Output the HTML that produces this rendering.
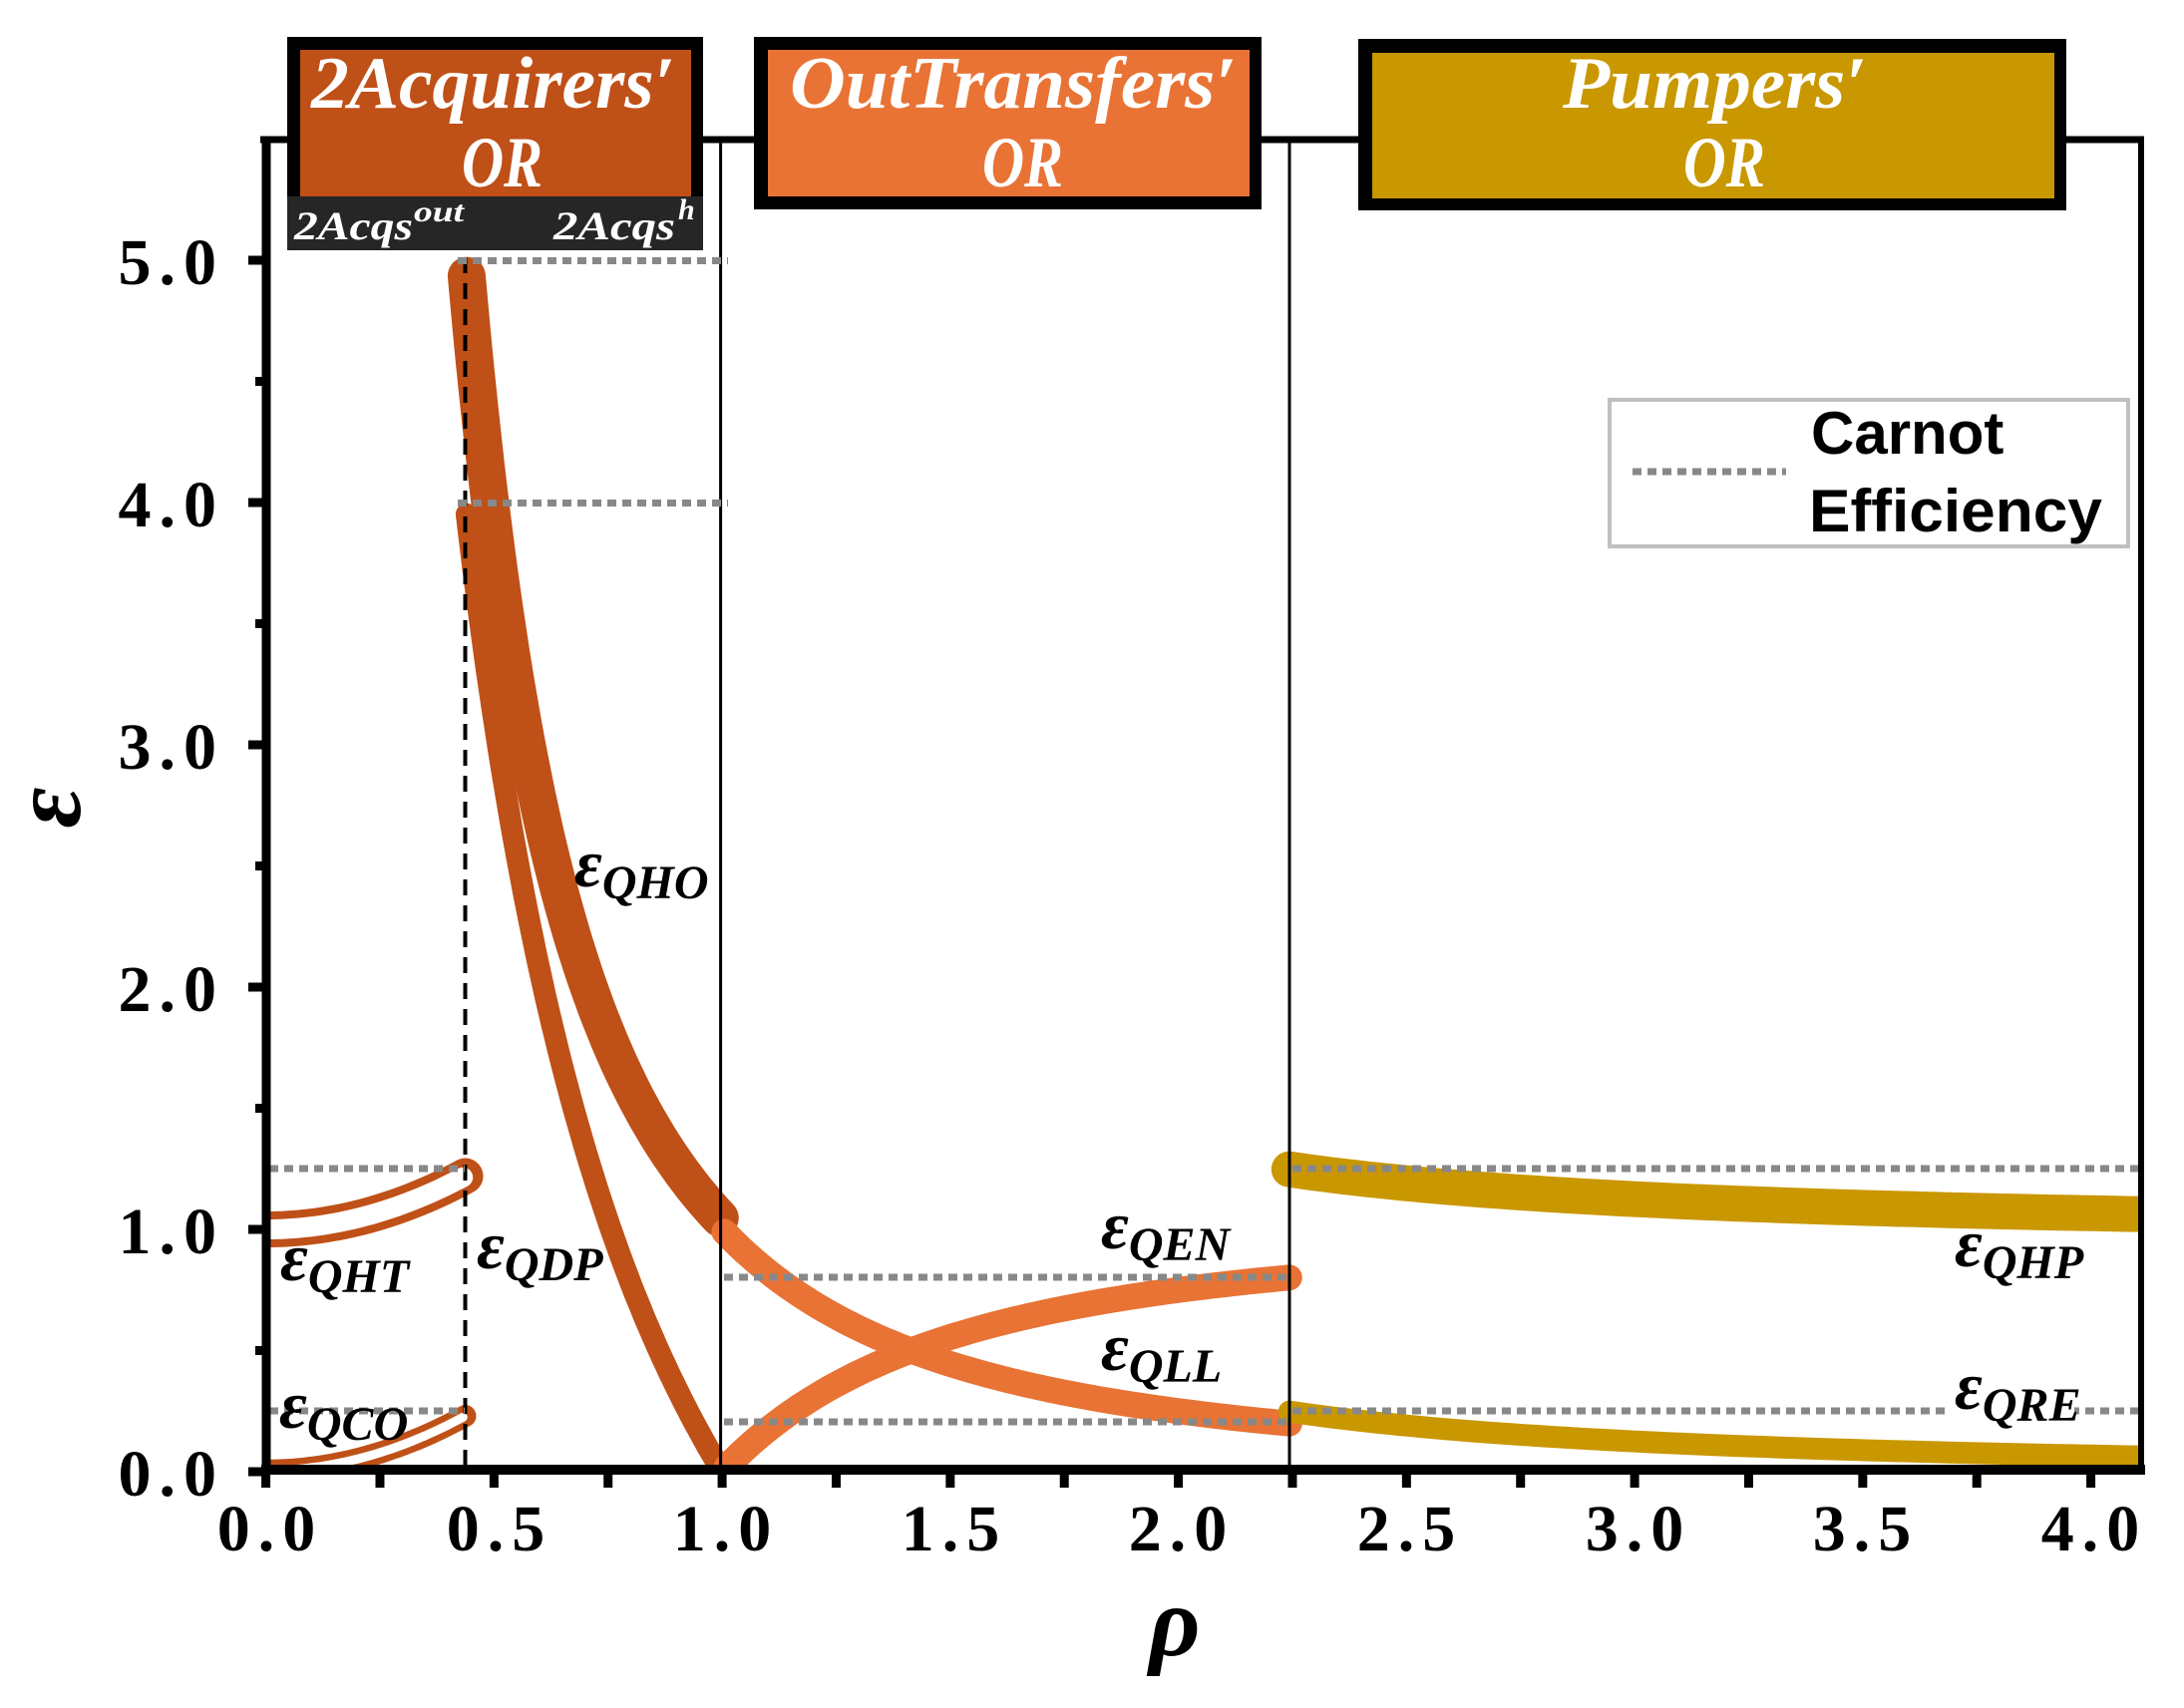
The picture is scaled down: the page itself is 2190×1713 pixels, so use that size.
<!DOCTYPE html>
<html><head><meta charset="utf-8"><style>html,body{margin:0;padding:0;background:#fff}svg{display:block}</style></head>
<body>
<svg id="s" xmlns="http://www.w3.org/2000/svg" width="2190" height="1713" viewBox="0 0 2190 1713">
<defs><clipPath id="pc"><rect x="271" y="140" width="1873" height="1330"/></clipPath></defs>
<rect width="2190" height="1713" fill="#fff"/>
<g id="curves" clip-path="url(#pc)"></g>
<!-- vertical lines -->
<line x1="722.6" y1="140" x2="722.6" y2="1470" stroke="#000" stroke-width="3"/>
<line x1="1293" y1="140" x2="1293" y2="1470" stroke="#000" stroke-width="3"/>
<line x1="466.5" y1="258" x2="466.5" y2="1470" stroke="#000" stroke-width="4" stroke-dasharray="16 10"/>
<!-- carnot dotted -->
<g stroke="#888" stroke-width="7" stroke-dasharray="9 6" fill="none">
<line x1="459" y1="261.5" x2="730" y2="261.5"/>
<line x1="459" y1="504.5" x2="730" y2="504.5"/>
<line x1="270" y1="1172" x2="466" y2="1172"/>
<line x1="270" y1="1415" x2="466" y2="1415"/>
<line x1="726" y1="1281" x2="1293" y2="1281"/>
<line x1="726" y1="1426" x2="1293" y2="1426"/>
<line x1="1296" y1="1172" x2="2146" y2="1172"/>
<line x1="1296" y1="1415" x2="2146" y2="1415"/>
</g>
<!-- axes -->
<line x1="261" y1="140" x2="2150" y2="140" stroke="#000" stroke-width="7"/>
<line x1="2147" y1="137" x2="2147" y2="1479" stroke="#000" stroke-width="6"/>
<line x1="267" y1="137" x2="267" y2="1479" stroke="#000" stroke-width="9"/>
<line x1="262" y1="1474" x2="2151" y2="1474" stroke="#000" stroke-width="10"/>
<g id="ticks" stroke="#000" stroke-width="9"></g>
<!-- tick labels -->
<g font-family="Liberation Serif, serif" font-weight="bold" font-size="66" fill="#000" letter-spacing="8" text-anchor="end">
<text x="225" y="285">5.0</text>
<text x="225" y="528">4.0</text>
<text x="225" y="771">3.0</text>
<text x="225" y="1014">2.0</text>
<text x="225" y="1257">1.0</text>
<text x="225" y="1500">0.0</text>
</g>
<g font-family="Liberation Serif, serif" font-weight="bold" font-size="66" fill="#000" letter-spacing="8" text-anchor="middle">
<text x="271" y="1555">0.0</text>
<text x="501" y="1555">0.5</text>
<text x="728" y="1555">1.0</text>
<text x="957" y="1555">1.5</text>
<text x="1185" y="1555">2.0</text>
<text x="1414" y="1555">2.5</text>
<text x="1643" y="1555">3.0</text>
<text x="1871" y="1555">3.5</text>
<text x="2100" y="1555">4.0</text>
</g>
<text x="1178" y="1660" font-family="Liberation Serif, serif" font-style="italic" font-weight="bold" font-size="100" text-anchor="middle">ρ</text>
<text transform="translate(80,810) rotate(-90)" font-family="Liberation Serif, serif" font-style="italic" font-weight="bold" font-size="100" text-anchor="middle">ε</text>
<!-- header boxes -->
<rect x="288" y="37" width="417" height="214" fill="#000"/>
<rect x="288" y="197" width="417" height="54" fill="#262626"/>
<rect x="301" y="50" width="392" height="147" fill="#BF5017"/>
<rect x="756" y="37" width="509" height="173" fill="#000"/>
<rect x="770" y="50" width="483" height="147" fill="#E87335"/>
<rect x="1362" y="39" width="710" height="172" fill="#000"/>
<rect x="1376" y="53" width="684" height="146" fill="#C99700"/>
<g font-family="Liberation Serif, serif" font-style="italic" font-weight="bold" fill="#fff">
<text x="312" y="108" font-size="74" textLength="365" lengthAdjust="spacingAndGlyphs">2Acquirers′</text>
<text x="463" y="187" font-size="72" textLength="81" lengthAdjust="spacingAndGlyphs">OR</text>
<text x="792" y="108" font-size="74" textLength="448" lengthAdjust="spacingAndGlyphs">OutTransfers′</text>
<text x="985" y="187" font-size="72" textLength="81" lengthAdjust="spacingAndGlyphs">OR</text>
<text x="1567" y="108" font-size="74" textLength="305" lengthAdjust="spacingAndGlyphs">Pumpers′</text>
<text x="1688" y="187" font-size="72" textLength="82" lengthAdjust="spacingAndGlyphs">OR</text>
<text x="295" y="240" font-size="40" textLength="119" lengthAdjust="spacingAndGlyphs">2Acqs</text>
<text x="415" y="222" font-size="30" textLength="50" lengthAdjust="spacingAndGlyphs">out</text>
<text x="555" y="240" font-size="40" textLength="122" lengthAdjust="spacingAndGlyphs">2Acqs</text>
<text x="680" y="220" font-size="30">h</text>
</g>
<!-- legend -->
<rect x="1614" y="401" width="520" height="147" fill="#fff" stroke="#c0c0c0" stroke-width="4"/>
<line x1="1637" y1="473" x2="1791" y2="473" stroke="#888" stroke-width="7" stroke-dasharray="9 6"/>
<g font-family="Liberation Sans, sans-serif" font-weight="bold" font-size="60" fill="#000">
<text x="1816" y="455">Carnot</text>
<text x="1814" y="533" textLength="294" lengthAdjust="spacingAndGlyphs">Efficiency</text>
</g>
<!-- series labels -->
<rect x="474" y="1232" width="126" height="56" fill="#fff"/>
<rect x="1955" y="1378" width="125" height="52" fill="#fff"/>
<g font-family="Liberation Serif, serif" font-style="italic" font-weight="bold" fill="#000">
<text x="576" y="889" font-size="68">ε<tspan font-size="48" dy="12">QHO</tspan></text>
<text x="478" y="1272" font-size="68">ε<tspan font-size="48" dy="12">QDP</tspan></text>
<text x="281" y="1284" font-size="68">ε<tspan font-size="48" dy="12">QHT</tspan></text>
<text x="280" y="1432" font-size="68">ε<tspan font-size="48" dy="12">QCO</tspan></text>
<text x="1104" y="1252" font-size="68">ε<tspan font-size="48" dy="12">QEN</tspan></text>
<text x="1104" y="1374" font-size="68">ε<tspan font-size="48" dy="12">QLL</tspan></text>
<text x="1960" y="1270" font-size="68">ε<tspan font-size="48" dy="12">QHP</tspan></text>
<text x="1960" y="1413" font-size="68">ε<tspan font-size="48" dy="12">QRE</tspan></text>
</g>
<script>
(function(){
var NS="http://www.w3.org/2000/svg";
function X(r){return 266.6+457.5*r;}
function Y(e){return 1476-243*e;}
function path(f,a,b,n){var d="";for(var i=0;i<=n;i++){var r=a+(b-a)*i/n;d+=(i?"L":"M")+X(r).toFixed(1)+" "+Y(f(r)).toFixed(1);}return d;}
var g=document.getElementById("curves");
function add(d,c,w){var p=document.createElementNS(NS,"path");p.setAttribute("d",d);p.setAttribute("stroke",c);p.setAttribute("stroke-width",w);p.setAttribute("fill","none");p.setAttribute("stroke-linecap","round");p.setAttribute("stroke-linejoin","round");g.appendChild(p);}
var rb=0.437,c1="#BF5017",c2="#E87335",c3="#C99700";
var qht=function(r){return 1+0.22*Math.pow(r/rb,2);};
var qco=function(r){return 0.005+0.225*Math.pow(r/rb,2);};
add(path(qht,-0.05,rb,40),c1,36);add(path(qht,-0.05,rb-0.005,40),"#fff",20);
add(path(qco,-0.05,rb,40),c1,22);add(path(qco,-0.05,rb-0.005,40),"#fff",9);
var qho=function(r){return 5*Math.pow(rb/r,1.9);};
var qdp=function(r){return 4*(1/r-1)/(1/rb-1);};
add(path(qho,rb+0.003,0.995,80),c1,38);
add(path(qdp,rb+0.003,0.995,80),c1,22);
var qll=function(r){return 1/(r*r);};
var qen=function(r){return 1-1/(r*r);};
add(path(qll,1.005,2.243,80),c2,26);
add(path(qen,1.01,2.243,80),c2,26);
var qhp=function(r){return 1/(1-1/(r*r));};
var qre=function(r){return 1/(r*r-1);};
add(path(qhp,2.243,4.2,80),c3,36);
add(path(qre,2.243,4.2,80),c3,22);
var t=document.getElementById("ticks"),i,l;
for(i=0;i<=16;i++){l=document.createElementNS(NS,"line");var x=X(i*0.25);l.setAttribute("x1",x);l.setAttribute("x2",x);l.setAttribute("y1",1474);l.setAttribute("y2",1492);t.appendChild(l);}
for(i=0;i<=10;i++){l=document.createElementNS(NS,"line");var y=Y(i*0.5);l.setAttribute("y1",y);l.setAttribute("y2",y);l.setAttribute("x1",i%2?256:249);l.setAttribute("x2",267);t.appendChild(l);}
})();
</script>
</svg>
</body></html>
